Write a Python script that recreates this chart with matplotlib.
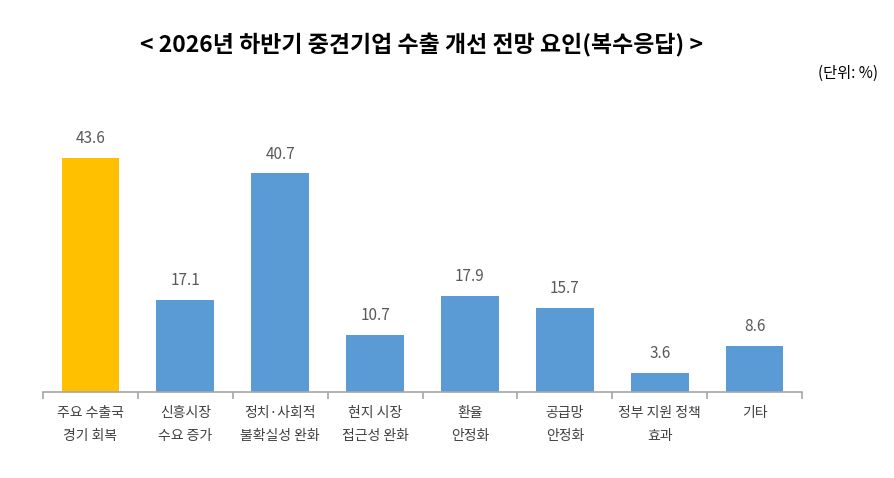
import numpy as np
import matplotlib.pyplot as plt

plt.rcParams['font.family'] = ['Noto Sans CJK KR', 'DejaVu Sans']

categories = ["주요 수출국\n경기 회복", "신흥시장\n수요 증가", "정치·사회적\n불확실성 완화",
              "현지 시장\n접근성 완화", "환율\n안정화", "공급망\n안정화",
              "정부 지원 정책\n효과", "기타"]
values = [43.6, 17.1, 40.7, 10.7, 17.9, 15.7, 3.6, 8.6]
colors = ["#FFC000"] + ["#5B9BD5"] * 7

fig = plt.figure(figsize=(8.94, 4.78), dpi=100)
ax = fig.add_axes([43 / 894, 86 / 478, 759 / 894, 282 / 478])

x = np.arange(len(values))
ax.bar(x, values, width=0.61, color=colors)
for xi, v in zip(x, values):
    ax.text(xi, v + 2.0, f"{v:.1f}", ha="center", va="bottom", fontsize=11, color="#595959")

ax.set_xlim(-0.5, len(values) - 0.5)
ax.set_ylim(0, 52.5)
for s in ["top", "right", "left"]:
    ax.spines[s].set_visible(False)
ax.spines["bottom"].set_color("#A6A6A6")
ax.spines["bottom"].set_linewidth(1.2)
ax.set_yticks([])

ax.set_xticks(np.arange(len(values) + 1) - 0.5)
ax.set_xticklabels([])
ax.tick_params(axis="x", length=5, color="#A6A6A6", width=1.2)
for xi, lab in zip(x, categories):
    ax.text(xi, -2.6, lab, ha="center", va="top", fontsize=10, color="#404040",
            linespacing=1.85)

fig.text(422 / 894, 1 - 45 / 478, "< 2026년 하반기 중견기업 수출 개선 전망 요인(복수응답) >",
         ha="center", va="center", fontsize=16.5, fontweight="semibold", color="#000000")
fig.text(878 / 894, 1 - 73 / 478, "(단위: %)", ha="right", va="center", fontsize=11,
         color="#000000")

fig.savefig("out.png", dpi=100)
